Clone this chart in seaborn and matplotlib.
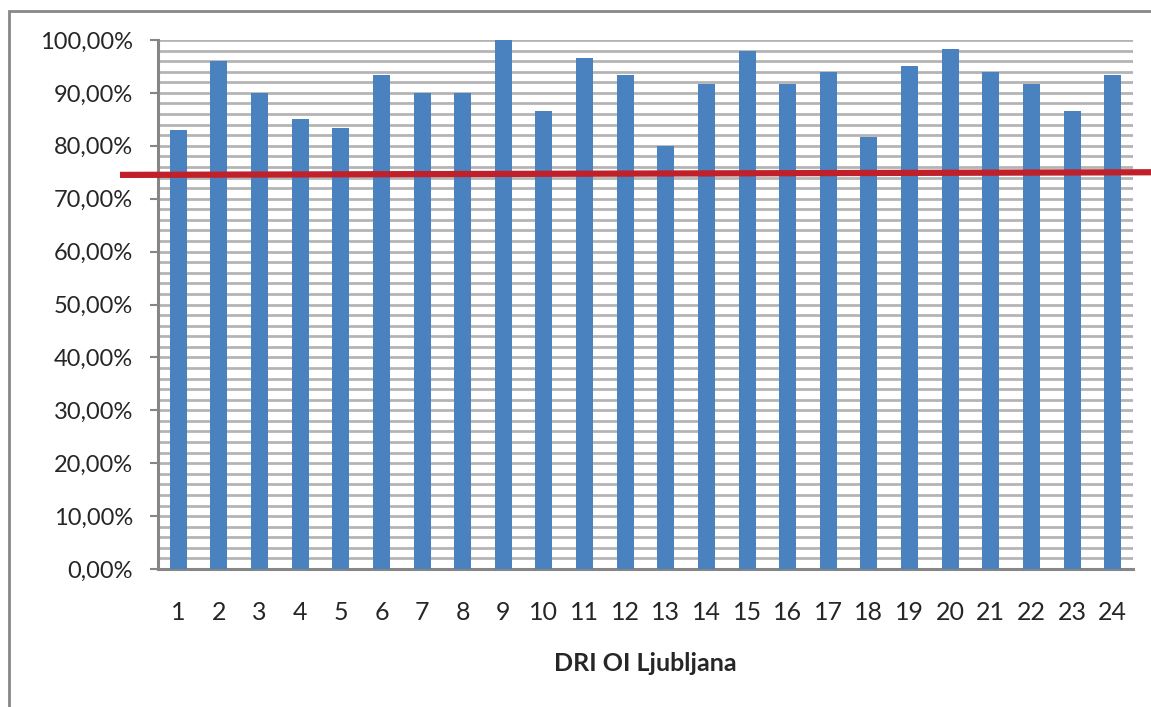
import matplotlib
matplotlib.use("Agg")
import matplotlib.pyplot as plt
import seaborn as sns
import pandas as pd
from matplotlib.ticker import FuncFormatter, MultipleLocator
from matplotlib.patches import Rectangle

# values (percent)
units = [str(i) for i in range(1, 25)]
share = [83.0, 96.0, 90.0, 85.1, 83.4, 93.4, 90.0, 90.0, 100.0, 86.6, 96.6, 93.4,
         80.0, 91.7, 97.9, 91.7, 94.0, 81.7, 95.1, 98.3, 94.0, 91.7, 86.6, 93.4]
target_left = 74.5
target_right = 75.0
xlabel = "DRI OI Ljubljana"

sns.set_style("white")
plt.rcParams["font.family"] = ["Lato", "DejaVu Sans"]

df = pd.DataFrame({"unit": units, "share": share})

fig = plt.figure(figsize=(11.51, 7.07), dpi=100)
ax = fig.add_axes([158/1151, 1-569/707, 975/1151, 529/707])

sns.barplot(data=df, x="unit", y="share", color="#4A81BF", saturation=1,
            width=0.42, linewidth=0, ax=ax, zorder=3)

ax.set_ylim(0, 100)
ax.set_xlim(-0.5, len(units) - 0.5)
ax.yaxis.set_major_locator(MultipleLocator(10))
ax.yaxis.set_minor_locator(MultipleLocator(2))
ax.yaxis.set_major_formatter(FuncFormatter(lambda v, p: f"{v:.2f}".replace(".", ",") + "%"))
ax.grid(True, which="both", axis="y", color="#B4B4B4", linewidth=2, zorder=0)
ax.set_axisbelow(True)

# ticks between categories on the x axis
ax.set_xticks([i + 0.5 for i in range(-1, len(units))], minor=True)
ax.tick_params(axis="x", which="major", length=0, pad=23, labelsize=18)
ax.tick_params(axis="x", which="minor", length=7, width=1.5, color="#868686", direction="out")
ax.tick_params(axis="y", which="major", length=6, width=1.5, color="#868686",
               direction="out", pad=12, labelsize=17, left=True)
ax.tick_params(axis="y", which="minor", length=0)

for side in ["top", "right"]:
    ax.spines[side].set_visible(False)
for side in ["left", "bottom"]:
    ax.spines[side].set_color("#868686")
    ax.spines[side].set_linewidth(2.2)

ax.set_xlabel(xlabel, fontsize=18, fontweight="bold", labelpad=20)
ax.set_ylabel("")

# red target line drawn across the chart
ax.plot([-0.039, 1.02], [target_left, target_right], color="#C0202A", linewidth=4.5,
        transform=ax.get_yaxis_transform(), clip_on=False, zorder=5,
        solid_capstyle="butt")

# chart frame
fig.patches.append(Rectangle((9/1151, -0.1), 1.2, 1 - 11/707 + 0.1, transform=fig.transFigure,
                             fill=False, edgecolor="#878787", linewidth=2))

fig.savefig("out.png", dpi=100)
